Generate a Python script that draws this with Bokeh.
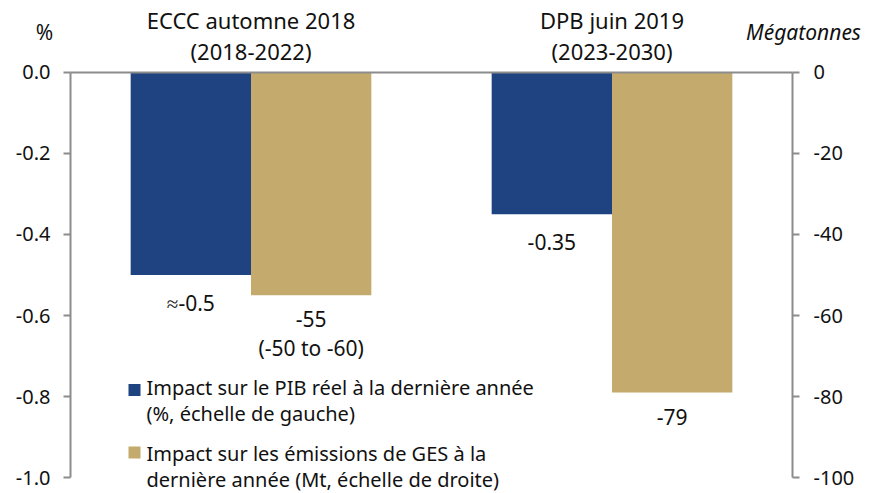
from bokeh.plotting import figure
from bokeh.models import Range1d, LinearAxis, FixedTicker, PrintfTickFormatter, ColumnDataSource, Label
from bokeh.core.properties import value
from bokeh.embed import file_html
from bokeh.resources import INLINE

# ---- data ----
group_line1 = ["ECCC automne 2018", "DPB juin 2019"]
group_line2 = ["(2018-2022)", "(2023-2030)"]
gdp_impact = [-0.5, -0.35]      # %, left axis
ghg_impact = [-55, -79]         # Mt, right axis
gdp_labels = ["\u2248-0.5", "-0.35"]
ghg_labels = ["-55", "-79"]
ghg_notes = ["(-50 to -60)", ""]
left_ticks = [0.0, -0.2, -0.4, -0.6, -0.8, -1.0]
right_ticks = [0, -20, -40, -60, -80, -100]
legend_labels = [["Impact sur le PIB r\u00e9el \u00e0 la derni\u00e8re ann\u00e9e", "(%, \u00e9chelle de gauche)"],
                 ["Impact sur les \u00e9missions de GES \u00e0 la", "derni\u00e8re ann\u00e9e (Mt, \u00e9chelle de droite)"]]

BLUE = "#1e4380"
GOLD = "#c4aa6c"
AX = "#8c8c8c"
TXT = "#111111"
FONT = "Noto Sans"
FS = "20px"
FS_TITLE = "22px"
FS_VAL = "21px"

W, H = 872, 493
# pixel geometry of the plotting area (left axis at X0, 361 px per category, zero at Y0)
X0, XS = 70.0, 361.0
Y0, YS = 71.7, 405.6

n = len(group_line1)
bw = 1.0 / 3.0
centers = [i + 0.5 for i in range(n)]
x_blue = [c - bw / 2 for c in centers]
x_gold = [c + bw / 2 for c in centers]

def dx(px):
    return (px - X0) / XS

def dy(py):
    return -(py - Y0) / YS

p = figure(width=W, height=H, title=None,
           x_range=Range1d(dx(0), dx(W)), y_range=Range1d(dy(H), dy(0)),
           x_axis_location="above", output_backend="svg", toolbar_location=None,
           min_border_left=0, min_border_right=0, min_border_top=0, min_border_bottom=0)
p.extra_y_ranges = {"mt": Range1d(dy(H) * 100, dy(0) * 100)}
p.xgrid.visible = False
p.ygrid.visible = False
p.outline_line_color = None
p.background_fill_color = "white"
p.border_fill_color = "white"

src_b = ColumnDataSource(dict(x=x_blue, top=[0] * n, bottom=gdp_impact, lab=gdp_labels))
src_g = ColumnDataSource(dict(x=x_gold, top=[0] * n, bottom=ghg_impact, lab=ghg_labels, note=ghg_notes))

p.vbar(x="x", width=bw, top="top", bottom="bottom", source=src_b, fill_color=BLUE, line_color=None)
p.vbar(x="x", width=bw, top="top", bottom="bottom", source=src_g, fill_color=GOLD, line_color=None,
       y_range_name="mt")

txt_kw = dict(text_align="center", text_baseline="middle", text_font=value(FONT),
              text_font_size=FS_VAL, text_color=TXT)
p.text(x="x", y="bottom", text="lab", source=src_b, y_offset=28, **txt_kw)
p.text(x="x", y="bottom", text="lab", source=src_g, y_offset=24, y_range_name="mt", **txt_kw)
p.text(x="x", y="bottom", text="note", source=src_g, y_offset=53, y_range_name="mt", **txt_kw)

# zero line (category axis at y = 0)
xa = p.xaxis[0]
xa.fixed_location = 0
xa.bounds = (0, n)
xa.ticker = FixedTicker(ticks=[])
xa.major_label_text_font_size = "0px"
xa.axis_line_color = AX
xa.axis_line_width = 2
xa.major_tick_line_color = None
xa.minor_tick_line_color = None

# value axes
yl = p.yaxis[0]
yl.fixed_location = 0
yl.bounds = (-1.0, 0.0)
yl.ticker = FixedTicker(ticks=left_ticks)
yl.formatter = PrintfTickFormatter(format="%.1f")
yr = LinearAxis(y_range_name="mt", ticker=FixedTicker(ticks=right_ticks),
                formatter=PrintfTickFormatter(format="%d"))
yr.fixed_location = n
yr.bounds = (-100, 0)
p.add_layout(yr, "right")
for ax in (yl, yr):
    ax.axis_line_color = AX
    ax.axis_line_width = 2
    ax.major_tick_line_color = AX
    ax.major_tick_line_width = 2
    ax.major_tick_out = 7
    ax.major_tick_in = 0
    ax.minor_tick_line_color = None
    ax.major_label_text_font = FONT
    ax.major_label_text_font_size = FS
    ax.major_label_text_color = TXT
yl.major_label_standoff = 13
yr.major_label_standoff = 14

lab_kw = dict(text_font=FONT, text_color=TXT, text_baseline="middle")
for i in range(n):
    p.add_layout(Label(x=centers[i], y=dy(19), text=group_line1[i], text_align="center",
                       text_font_size=FS_TITLE, **lab_kw))
    p.add_layout(Label(x=centers[i], y=dy(50), text=group_line2[i], text_align="center",
                       text_font_size=FS_TITLE, **lab_kw))
p.add_layout(Label(x=dx(44), y=dy(31), text="%", text_align="center", text_font_size=FS_VAL, **lab_kw))
p.add_layout(Label(x=dx(803), y=dy(31), text="M\u00e9gatonnes", text_align="center",
                   text_font_style="italic", text_font_size=FS_VAL, **lab_kw))

# legend
leg_colors = [BLUE, GOLD]
leg_sq_y = [389.5, 452]
leg_line_y = [[387, 413], [453, 479]]
p.rect(x=[dx(134)] * 2, y=[dy(v) for v in leg_sq_y], width=12, height=12,
       width_units="screen", height_units="screen", fill_color=leg_colors, line_color=None)
for i in range(2):
    for j in range(2):
        p.add_layout(Label(x=dx(146), y=dy(leg_line_y[i][j]), text=legend_labels[i][j],
                           text_align="left", text_font_size=FS, **lab_kw))

open("out.html", "w").write(file_html(p, INLINE))
